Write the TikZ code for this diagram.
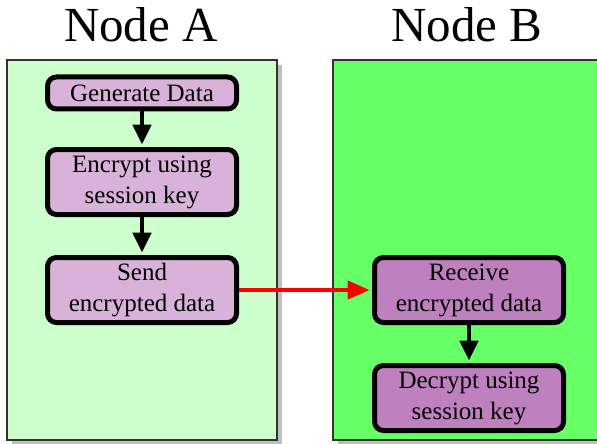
\documentclass[tikz,border=0pt]{standalone}
\usepackage{fontspec}
\setmainfont{Liberation Serif}
\usetikzlibrary{arrows.meta}
\begin{document}
\begin{tikzpicture}[x=0.5pt,y=-0.5pt,
 panel/.style={draw=black!80, line width=0.6pt},
 shadowbox/.style={fill=black!25},
 proc/.style={draw=black, line width=2.5pt, rounded corners=4.5pt, align=center, minimum width=94.5pt, font=\fontsize{12.5}{15.5}\selectfont, inner sep=0pt},
 one/.style={minimum height=16pt},
 two/.style={minimum height=32.5pt},
 flow/.style={line width=2.3pt, -{Triangle[length=10pt,width=9pt]}, shorten >=1.2pt},
 sendarrow/.style={line width=2pt, red, -{Triangle[length=11pt,width=9pt]}, shorten >=1.2pt},
 title/.style={font=\fontsize{24.5}{29}\selectfont, anchor=base, inner sep=0pt}
]
\useasboundingbox (0,0) rectangle (597,443);
\clip (0,0) rectangle (597,443);
\fill[white] (0,0) rectangle (597,443);
% panels
\fill[shadowbox] (12,65) rectangle (282,445);
\filldraw[panel, fill=green!20] (7,60) rectangle (277,440);
\fill[shadowbox] (338,65) rectangle (620,445);
\filldraw[panel, fill=green!60] (333,60) rectangle (620,440);
% titles
\node[title] (ta) at (141,42) {Node A};
\node[title] (tb) at (467,42) {Node B};
% steps
\node[proc,one,fill=violet!30] (gen) at (142,93) {Generate Data};
\node[proc,two,fill=violet!30] (enc) at (142,182) {Encrypt using\\session key};
\node[proc,two,fill=violet!30] (send) at (142,290) {Send\\encrypted data};
\node[proc,two,fill=violet!50] (recv) at (469,290) {Receive\\encrypted data};
\node[proc,two,fill=violet!50] (dec) at (469,398) {Decrypt using\\session key};
% connectors
\draw[flow] (gen) -- (enc);
\draw[flow] (enc) -- (send);
\draw[flow] (recv) -- (dec);
\draw[sendarrow] (send) -- (recv);
\end{tikzpicture}
\end{document}
